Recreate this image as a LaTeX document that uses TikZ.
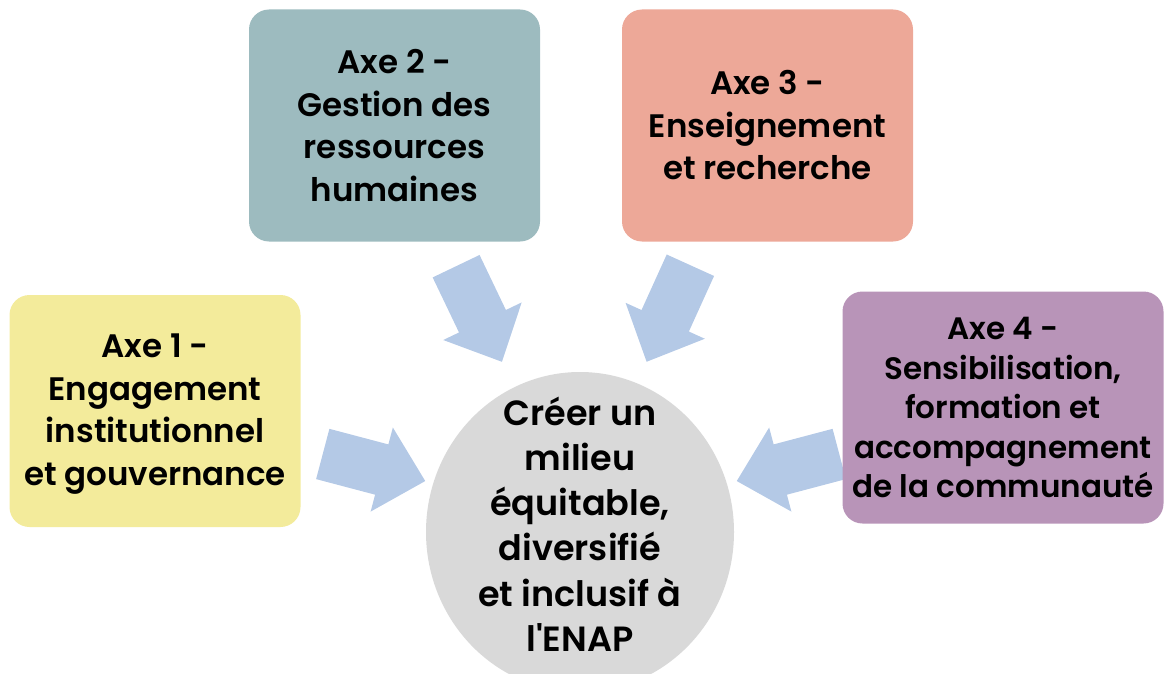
\documentclass[tikz,border=0pt]{standalone}
\usepackage{fontspec}
\setmainfont{Poppins}[BoldFont={Poppins SemiBold}, Ligatures=TeXOff]
\usetikzlibrary{shapes.geometric}
\definecolor{cyel}{RGB}{243,235,155}
\definecolor{cteal}{RGB}{157,187,191}
\definecolor{csal}{RGB}{237,168,152}
\definecolor{cpur}{RGB}{184,148,184}
\definecolor{cgray}{RGB}{217,217,217}
\definecolor{carr}{RGB}{180,201,230}
\tikzset{
  axebox/.style={rounded corners=20pt, inner sep=0pt, minimum width=291pt, minimum height=232pt, align=center, font=\bfseries\fontsize{32.5}{42.5}\selectfont},
  arrowfill/.style={fill=carr, draw=none},
  goaltext/.style={align=center, inner sep=0pt, font=\bfseries\fontsize{35}{45.3}\selectfont},
  pics/blockarr/.style={code={
    \fill[arrowfill] (-53,-26) -- (8,-26) -- (8,-43.5) -- (53,0) -- (8,43.5) -- (8,26) -- (-53,26) -- cycle;
    \coordinate (-tip) at (53,0);
  }}
}
\begin{document}
\begin{tikzpicture}[x=1pt,y=-1pt]
\useasboundingbox (0,0) rectangle (1164,674);
% central goal
\node[ellipse, fill=cgray, minimum width=308pt, minimum height=320pt, inner sep=0pt] (goal) at (580,532) {};
\node[goaltext] (goaltxt) at (580,524) {Créer un\\milieu\\équitable,\\diversifié\\et inclusif à\\l'ENAP};
% block arrows
\pic[rotate=-14.8] (arr1) at (374,467.5) {blockarr};
\pic[rotate=-64.4] (arr2) at (479,314) {blockarr};
\pic[rotate=-114.4] (arr3) at (668.5,313.5) {blockarr};
\pic[rotate=-165.2] (arr4) at (788,467.5) {blockarr};
% axes
\node[axebox, fill=cyel] (axe1) at (155,411) {};
\node[axebox, fill=none, minimum height=0pt] (axe1txt) at (155,414) {Axe 1 -\\Engagement\\institutionnel\\et gouvernance};
\node[axebox, fill=cteal] (axe2) at (394.5,125.5) {Axe 2 -\\Gestion des\\ressources\\humaines};
\node[axebox, fill=csal] (axe3) at (767.5,125.5) {Axe 3 -\\Enseignement\\et recherche};
\node[axebox, fill=cpur, minimum width=321pt, font=\bfseries\fontsize{31}{39.5}\selectfont] (axe4) at (1003,407.5) {Axe 4 -\\Sensibilisation,\\formation et\\accompagnement\\de la communauté};
\end{tikzpicture}
\end{document}
